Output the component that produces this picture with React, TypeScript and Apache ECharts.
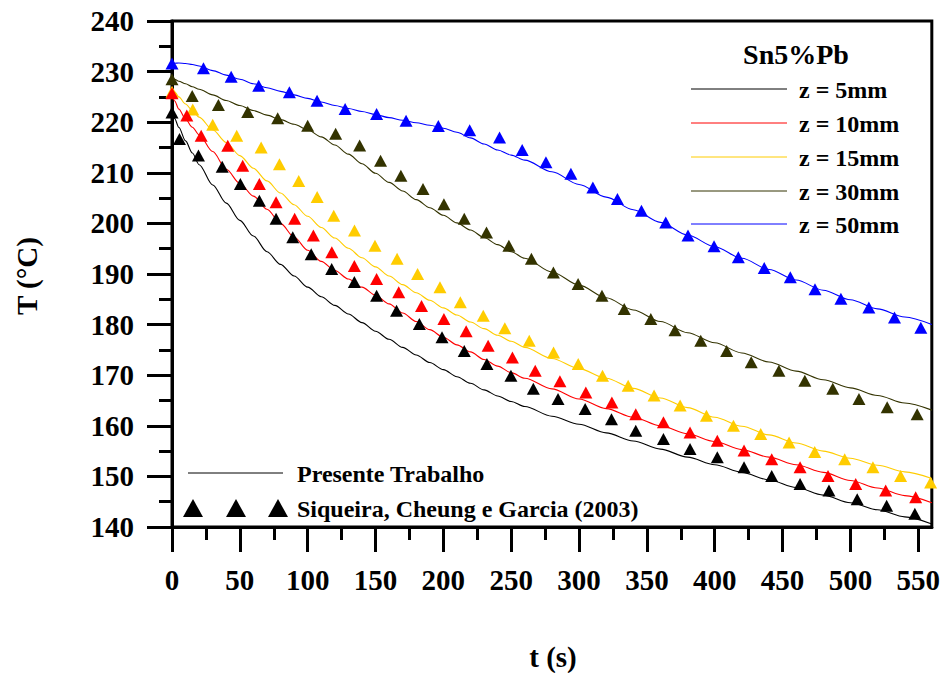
import { useEffect, useRef } from "react";
import * as echarts from "echarts";

const FONT = "Liberation Serif, Times New Roman, serif";

// ---- model (Presente Trabalho) ----
const modelTimes = [0, 2, 5, 10, 15, 20, 30, 40, 50, 60, 70, 80, 90, 100, 110, 120, 130, 140, 150, 160, 170, 180, 190, 200, 210, 220, 230, 240, 250, 260, 280, 300, 320, 340, 360, 380, 400, 420, 440, 460, 480, 500, 520, 540, 560];
const modelZ5 = [222.0, 220.7, 219.0, 216.3, 213.9, 211.6, 207.6, 204.0, 200.6, 197.5, 194.4, 191.9, 189.6, 187.4, 185.5, 183.8, 182.1, 180.4, 178.7, 177.1, 175.5, 174.0, 172.5, 171.1, 169.7, 168.4, 167.1, 165.9, 164.8, 163.8, 161.9, 160.3, 158.6, 157.0, 155.4, 153.8, 152.3, 150.8, 149.3, 147.8, 146.3, 144.8, 143.4, 142.0, 140.6];
const modelZ10 = [225.7, 224.2, 222.6, 220.6, 219.0, 217.5, 214.2, 210.7, 207.9, 205.4, 202.8, 200.0, 197.3, 194.7, 192.5, 190.7, 189.0, 187.4, 185.8, 184.1, 182.3, 180.6, 179.0, 177.5, 176.0, 174.6, 173.1, 171.8, 170.5, 169.4, 167.3, 165.3, 163.4, 161.7, 160.0, 158.4, 156.9, 155.3, 153.8, 152.3, 150.8, 149.2, 147.7, 146.2, 144.8];
const modelZ15 = [226.5, 226.0, 225.0, 223.6, 222.3, 221.0, 218.5, 216.0, 213.4, 210.9, 208.4, 206.0, 203.7, 201.4, 199.2, 197.1, 195.1, 193.2, 191.4, 189.6, 187.9, 186.3, 184.8, 183.3, 181.9, 180.5, 179.2, 177.9, 176.7, 175.5, 173.3, 171.3, 169.4, 167.4, 165.5, 163.6, 161.7, 159.9, 158.2, 156.6, 155.0, 153.6, 152.2, 150.9, 149.6];
const modelZ30 = [228.7, 228.5, 228.1, 227.6, 227.0, 226.5, 225.4, 224.3, 223.3, 222.3, 221.4, 220.5, 219.6, 218.5, 217.1, 215.5, 213.7, 211.8, 209.9, 208.1, 206.4, 204.7, 203.1, 201.6, 200.1, 198.7, 197.2, 195.8, 194.4, 193.1, 190.4, 187.8, 185.3, 182.9, 180.6, 178.4, 176.4, 174.4, 172.6, 170.8, 169.1, 167.5, 166.0, 164.5, 163.1];
const modelZ50 = [231.6, 231.65, 231.7, 231.6, 231.4, 231.1, 230.2, 229.3, 228.5, 227.6, 226.8, 226.1, 225.4, 224.7, 224.0, 223.3, 222.7, 222.1, 221.5, 220.9, 220.4, 219.9, 219.4, 218.8, 218.0, 216.9, 215.7, 214.5, 213.5, 212.5, 210.2, 207.7, 205.2, 202.7, 200.2, 197.7, 195.4, 193.1, 190.9, 188.8, 186.8, 184.9, 183.1, 181.5, 180.0];

// ---- experimental (Siqueira, Cheung e Garcia 2003) ----
const expZ5Times = [0, 5.5, 19.5, 37, 50.4, 64.4, 76.7, 89, 102.6, 117.7, 134.4, 150.8, 165.5, 182.3, 199, 215.4, 232.1, 249.8, 266.3, 284.5, 304.5, 323.9, 341.8, 362.2, 381.8, 401.9, 421.6, 442, 462.9, 484.2, 505, 526.7, 547.5];
const expZ5 = [221.9, 216.7, 213.4, 211.2, 207.8, 204.5, 200.9, 197.25, 193.9, 191.0, 188.4, 185.7, 182.75, 180.1, 177.5, 174.8, 172.2, 169.9, 167.3, 165.3, 163.3, 161.3, 159.0, 157.4, 155.4, 153.8, 151.8, 150.1, 148.5, 147.2, 145.5, 144.2, 142.6];
const expZ10Times = [0, 10.9, 21.5, 41.1, 52.1, 64.4, 76.7, 90.4, 104.2, 117.8, 134.4, 150.8, 167.1, 183.9, 200.4, 216.8, 233, 250.9, 267.7, 285.9, 305, 324.2, 341.8, 362.2, 381.8, 401.9, 421.6, 442, 462.9, 483.5, 503.9, 526, 548.1];
const expZ10 = [225.7, 221.3, 217.3, 215.35, 211.4, 207.8, 204.2, 200.9, 197.6, 194.3, 191.6, 189.0, 186.4, 183.7, 181.1, 178.7, 175.8, 173.5, 170.9, 168.8, 166.6, 164.6, 162.3, 160.7, 158.7, 157.05, 155.1, 153.4, 151.8, 150.1, 148.5, 147.2, 145.9];
const expZ15Times = [0, 15.3, 30, 47.7, 65.7, 79.2, 93.4, 107, 119.2, 134.5, 149.6, 165.9, 181, 197.5, 212.5, 229.4, 245.3, 263.3, 281.2, 299.4, 317.3, 336.2, 355.3, 374.5, 393.9, 413.8, 433.9, 454.8, 473.7, 495.8, 516.6, 537, 559.1];
const expZ15 = [226.0, 222.5, 219.5, 217.3, 215.0, 211.7, 208.4, 205.2, 201.5, 198.6, 195.6, 193.0, 190.0, 187.4, 184.4, 181.75, 179.3, 176.8, 174.5, 172.2, 169.9, 167.9, 166.0, 164.0, 162.0, 160.0, 158.4, 156.7, 154.8, 153.4, 151.8, 150.1, 148.8];
const expZ30Times = [0, 14.9, 34.2, 55.8, 77.9, 100, 120.6, 138.3, 153.7, 168.7, 185, 200.4, 215.4, 231.8, 248.3, 264.9, 281.1, 299.3, 316.9, 333.3, 352.9, 370.7, 389.7, 408.8, 426.9, 447.3, 466.4, 487, 506.3, 527.1, 549.2];
const expZ30 = [228.5, 225.2, 223.4, 222.0, 220.8, 219.3, 217.7, 215.4, 212.4, 209.4, 206.8, 203.8, 200.9, 198.2, 195.6, 193.0, 190.3, 188.0, 185.7, 183.1, 181.1, 178.9, 176.8, 174.8, 172.55, 170.9, 168.9, 167.3, 165.3, 163.65, 162.3];
const expZ50Times = [0, 23.2, 43.6, 63.9, 86.5, 106.9, 127.6, 150.8, 172.5, 196.3, 219.4, 241.4, 258.1, 275.6, 294, 310.2, 328.3, 346, 363.9, 380.3, 399.5, 417.4, 436.5, 455.7, 473.9, 493, 513.6, 532.5, 551.9];
const expZ50 = [231.6, 230.65, 229.0, 227.2, 225.9, 224.25, 222.6, 221.6, 220.3, 219.25, 218.4, 217.0, 214.5, 212.1, 209.8, 207.1, 204.8, 202.5, 200.2, 197.6, 195.5, 193.3, 191.2, 189.35, 187.0, 185.1, 183.4, 181.4, 179.4];

const seriesNames = ["z = 5mm", "z = 10mm", "z = 15mm", "z = 30mm", "z = 50mm"];
const seriesColors = ["#000000", "#FF0000", "#FFCC00", "#333300", "#0000FF"];

const xMajorTicks = [0, 50, 100, 150, 200, 250, 300, 350, 400, 450, 500, 550];
const xMinorTicks = [25, 75, 125, 175, 225, 275, 325, 375, 425, 475, 525];

const legendTitle = "Sn5%Pb";
const legendModel = "Presente Trabalho";
const legendExp = "Siqueira, Cheung e Garcia (2003)";
const xTitle = "t (s)";
const yTitle = "T (°C)";

const pairs = (ts: number[], vs: number[]) => ts.map((t, i) => [t, vs[i]]);

export default function App() {
  const ref = useRef<HTMLDivElement>(null);

  useEffect(() => {
    if (!ref.current) return;
    const chart = echarts.init(ref.current, null, { renderer: "svg" });

    const models = [modelZ5, modelZ10, modelZ15, modelZ30, modelZ50];
    const exps = [
      [expZ5Times, expZ5],
      [expZ10Times, expZ10],
      [expZ15Times, expZ15],
      [expZ30Times, expZ30],
      [expZ50Times, expZ50],
    ];

    const lineSeries = models.map((m, i) => ({
      type: "line",
      name: seriesNames[i],
      data: pairs(modelTimes, m),
      showSymbol: false,
      symbol: "none",
      smooth: 0.3,
      smoothMonotone: "x",
      lineStyle: { color: seriesColors[i], width: 1.1 },
      z: 2,
    }));

    // draw order: black, yellow, red, olive, blue (red over yellow at t=0)
    const scatterOrder = [0, 2, 1, 3, 4];
    const scatterSeries = scatterOrder.map((i) => ({
      type: "scatter",
      name: seriesNames[i] + " exp",
      data: pairs(exps[i][0], exps[i][1]),
      symbol: "triangle",
      symbolSize: [13, 12],
      itemStyle: { color: seriesColors[i], opacity: 1 },
      z: 3,
    }));

    const legendItemYs = [89, 123, 157, 191, 224];
    const graphics: any[] = [
      {
        type: "text",
        x: 27,
        y: 276,
        rotation: Math.PI / 2,
        style: { text: yTitle, fontSize: 29, fontWeight: "bold", fontFamily: FONT, fill: "#000", align: "center", verticalAlign: "middle" },
      },
      {
        type: "text",
        x: 553,
        y: 657,
        style: { text: xTitle, fontSize: 29, fontWeight: "bold", fontFamily: FONT, fill: "#000", align: "center", verticalAlign: "middle" },
      },
      {
        type: "text",
        x: 796,
        y: 54,
        style: { text: legendTitle, fontSize: 28, fontWeight: "bold", fontFamily: FONT, fill: "#000", align: "center", verticalAlign: "middle" },
      },
    ];
    seriesNames.forEach((n, i) => {
      graphics.push({
        type: "line",
        shape: { x1: 691, y1: legendItemYs[i], x2: 787, y2: legendItemYs[i] },
        style: { stroke: seriesColors[i], lineWidth: 1 },
      });
      graphics.push({
        type: "text",
        x: 799,
        y: legendItemYs[i] + 1,
        style: { text: n, fontSize: 24, fontWeight: "bold", fontFamily: FONT, fill: "#000", align: "left", verticalAlign: "middle" },
      });
    });
    graphics.push({
      type: "line",
      shape: { x1: 188, y1: 473, x2: 283, y2: 473 },
      style: { stroke: "#000", lineWidth: 1 },
    });
    graphics.push({
      type: "text",
      x: 297,
      y: 474,
      style: { text: legendModel, fontSize: 24, fontWeight: "bold", fontFamily: FONT, fill: "#000", align: "left", verticalAlign: "middle" },
    });
    [193, 236, 278].forEach((cx) => {
      graphics.push({
        type: "polygon",
        shape: { points: [[cx - 10, 517], [cx + 10, 517], [cx, 499]] },
        style: { fill: "#000" },
      });
    });
    graphics.push({
      type: "text",
      x: 297,
      y: 509,
      style: { text: legendExp, fontSize: 24, fontWeight: "bold", fontFamily: FONT, fill: "#000", align: "left", verticalAlign: "middle" },
    });

    const labelStyle = { fontSize: 29, fontWeight: "bold", fontFamily: FONT, color: "#000" };

    chart.setOption({
      animation: false,
      backgroundColor: "#fff",
      textStyle: { fontFamily: FONT },
      grid: {
        left: 172,
        top: 21,
        right: 9,
        bottom: 146,
        show: true,
        borderWidth: 3,
        borderColor: "#000",
        backgroundColor: "transparent",
      },
      xAxis: [
        {
          type: "value",
          min: 0,
          max: 560,
          position: "bottom",
          axisLine: { show: true, lineStyle: { color: "#000", width: 3 } },
          axisTick: { show: true, inside: false, length: 25, lineStyle: { color: "#000", width: 3 }, customValues: xMajorTicks },
          axisLabel: { ...labelStyle, margin: 38, customValues: xMajorTicks },
          splitLine: { show: false },
        },
        {
          type: "value",
          min: 0,
          max: 560,
          position: "bottom",
          axisLine: { show: false },
          axisTick: { show: true, inside: false, length: 13, lineStyle: { color: "#000", width: 3 }, customValues: xMinorTicks },
          axisLabel: { show: false },
          splitLine: { show: false },
        },
      ],
      yAxis: {
        type: "value",
        min: 140,
        max: 240,
        interval: 10,
        axisLine: { show: true, lineStyle: { color: "#000", width: 3 } },
        axisTick: { show: true, inside: false, length: 25, lineStyle: { color: "#000", width: 3 } },
        minorTick: { show: true, splitNumber: 2, length: 13, lineStyle: { color: "#000", width: 3 } },
        axisLabel: { ...labelStyle, margin: 38 },
        splitLine: { show: false },
        minorSplitLine: { show: false },
      },
      series: [...lineSeries, ...scatterSeries],
      graphic: graphics,
    });

    return () => chart.dispose();
  }, []);

  return (
    <div
      ref={ref}
      style={{ position: "fixed", left: 0, top: 0, width: 943, height: 673, background: "#fff" }}
    />
  );
}
